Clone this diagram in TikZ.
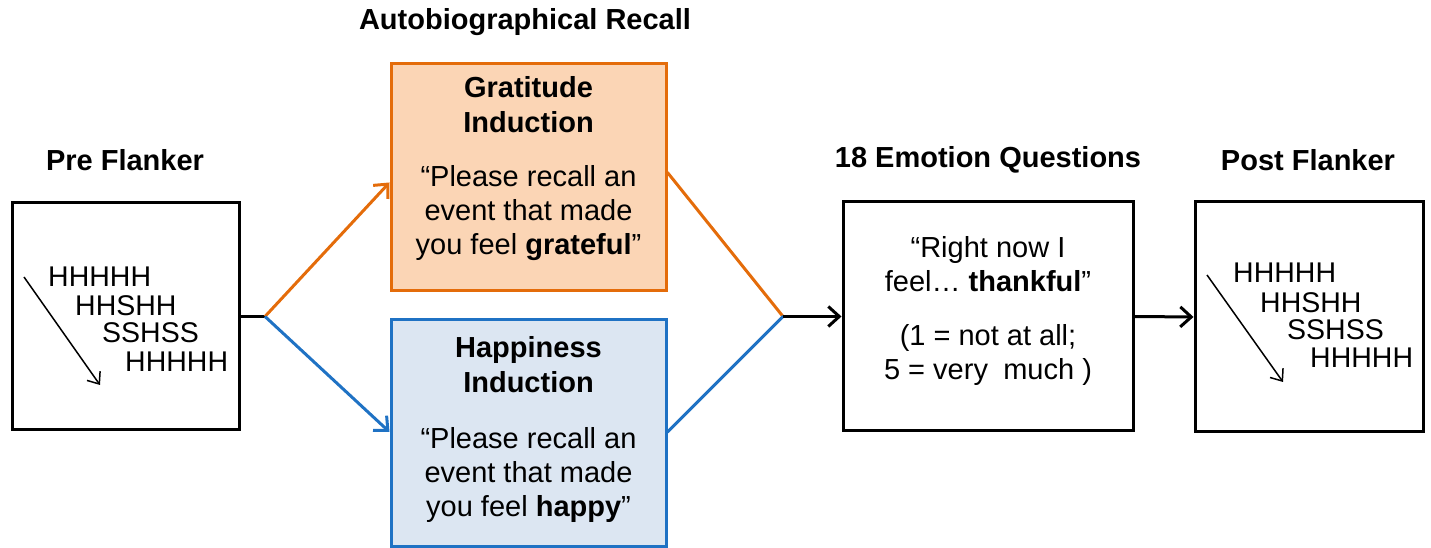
\documentclass[tikz,border=0pt]{standalone}
\usepackage{fontspec}
\setmainfont{Liberation Sans}
\usetikzlibrary{arrows.meta}
\definecolor{orangeline}{HTML}{E46C0A}
\definecolor{peach}{HTML}{FBD5B5}
\definecolor{blueline}{HTML}{1F72C4}
\definecolor{lightblue}{HTML}{DCE6F2}
\begin{document}
\begin{tikzpicture}[x=1pt,y=1pt,
  boxstyle/.style={draw, line width=3pt, inner sep=0pt},
  txt/.style={align=center, inner sep=0pt, font=\fontsize{29}{34}\selectfont},
  ttl/.style={align=center, inner sep=0pt, font=\fontsize{29}{35}\selectfont\bfseries},
  lett/.style={anchor=west, inner sep=0pt, font=\fontsize{28.5}{30}\selectfont},
  conn/.style={line width=3pt, -{Straight Barb[length=11pt,width=20pt,line width=3pt]}},
  plain/.style={line width=3pt},
  thinarrow/.style={line width=1.5pt, -{Straight Barb[length=10pt,width=16pt,line width=1.5pt]}}
]
\useasboundingbox (0,0) rectangle (1431,548);
% labels
\node[ttl] (lpre) at (125,388) {Pre Flanker};
\node[ttl] (lauto) at (525,526) {Autobiographical Recall};
\node[ttl] (lemo) at (988,388) {18 Emotion Questions};
\node[ttl] (lpost) at (1308,388) {Post Flanker};
% boxes
\node[boxstyle, minimum width=227pt, minimum height=227pt] (pre) at (125.5,231.5) {};
\node[boxstyle, draw=orangeline, fill=peach, minimum width=275pt, minimum height=227pt] (grat) at (528.5,370.5) {};
\node[boxstyle, draw=blueline, fill=lightblue, minimum width=275pt, minimum height=227pt] (happ) at (528.5,114.5) {};
\node[boxstyle, minimum width=290pt, minimum height=229pt] (emo) at (988,231.5) {};
\node[boxstyle, minimum width=228pt, minimum height=230pt] (post) at (1309,231) {};
% box texts
\node[ttl] (gratt) at (528.5,443.5) {Gratitude\\Induction};
\node[txt] (gratb) at (528.5,335) {“Please recall an\\event that made\\you feel \textbf{grateful}”};
\node[ttl] (happt) at (528.5,183.5) {Happiness\\Induction};
\node[txt] (happb) at (528.5,73) {“Please recall an\\event that made\\you feel \textbf{happy}”};
\node[txt] (emot) at (988,283.5) {“Right now I\\feel… \textbf{thankful}”};
\node[txt] (emob) at (988,193) {(1 = not at all;\\5 = very\hspace{0.25em} much )};
% flanker letters
\node[lett] (p1) at (48,271) {HHHHH};
\node[lett] (p2) at (75,242) {HHSHH};
\node[lett] (p3) at (102,215) {SSHSS};
\node[lett] (p4) at (125,186) {HHHHH};
\coordinate (pa1) at (24,271);
\coordinate (pa2) at (100,163);
\draw[thinarrow] (pa1) -- (pa2);
\node[lett] (q1) at (1233,275) {HHHHH};
\node[lett] (q2) at (1260,245) {HHSHH};
\node[lett] (q3) at (1287,218) {SSHSS};
\node[lett] (q4) at (1310,190) {HHHHH};
\coordinate (qa1) at (1207,273);
\coordinate (qa2) at (1283,166);
\draw[thinarrow] (qa1) -- (qa2);
% connectors
\coordinate (j1) at (265,231.5);
\coordinate (j2) at (783,231.5);
\draw[plain] (pre.east) -- (j1);
\draw[conn, orangeline] (j1) -- ([yshift=-5pt]grat.west);
\draw[conn, blueline] (j1) -- ([yshift=1.5pt]happ.west);
\draw[plain, orangeline, line cap=round] ([yshift=5pt]grat.east) -- (j2);
\draw[plain, blueline, line cap=round] ([yshift=1.5pt]happ.east) -- (j2);
\draw[conn] (j2) -- (emo.west);
\draw[conn] (emo.east) -- (post.west);
\end{tikzpicture}
\end{document}
